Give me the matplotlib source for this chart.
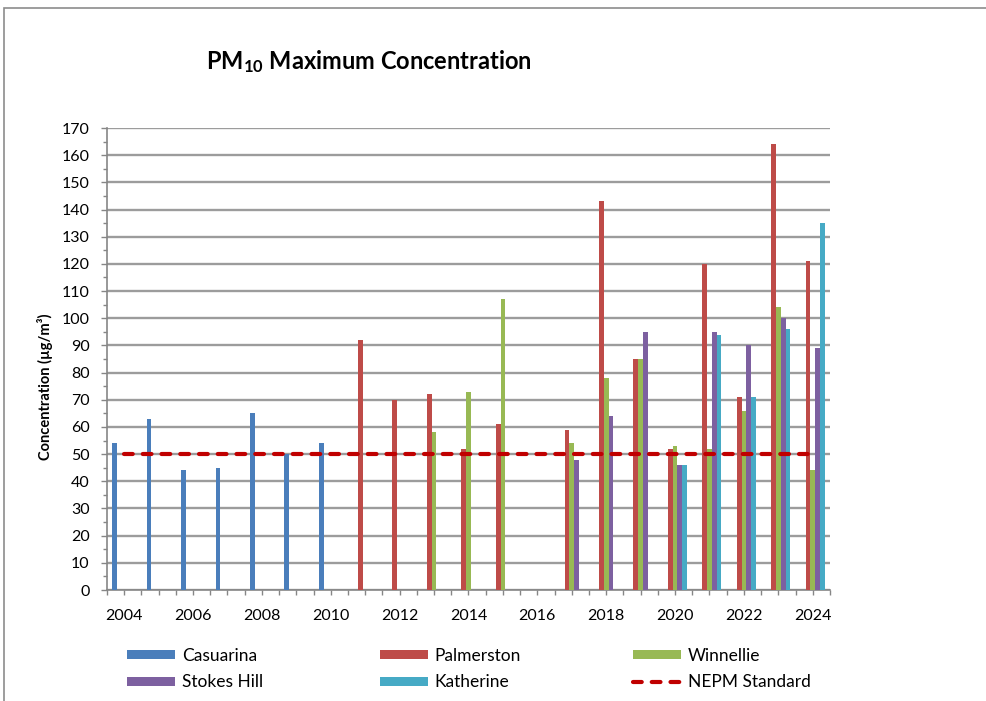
import numpy as np
import matplotlib
matplotlib.use("Agg")
import matplotlib.pyplot as plt
from matplotlib.patches import Rectangle
from matplotlib.lines import Line2D

plt.rcParams['font.family'] = ['Lato', 'DejaVu Sans']
plt.rcParams['mathtext.fontset'] = 'custom'
plt.rcParams['mathtext.rm'] = 'Lato'
plt.rcParams['mathtext.bf'] = 'Lato:bold'

years = list(range(2004, 2025))
N = None
casuarina = [54, 63, 44, 45, 65, 50, 54, N, N, N, N, N, N, N, N, N, N, N, N, N, N]
palmerston = [N, N, N, N, N, N, N, 92, 70, 72, 52, 61, N, 59, 143, 85, 52, 120, 71, 164, 121]
winnellie = [N, N, N, N, N, N, N, N, N, 58, 73, 107, N, 54, 78, 85, 53, 52, 66, 104, 44]
stokes_hill = [N, N, N, N, N, N, N, N, N, N, N, N, N, 48, 64, 95, 46, 95, 90, 100, 89]
katherine = [N, N, N, N, N, N, N, N, N, N, N, N, N, N, N, N, 46, 94, 71, 96, 135]
nepm_standard = [50] * len(years)

series_names = ["Casuarina", "Palmerston", "Winnellie", "Stokes Hill", "Katherine"]
series_vals = [casuarina, palmerston, winnellie, stokes_hill, katherine]
colors = ["#4A7EBB", "#BE4B48", "#98B954", "#7D60A0", "#46AAC5"]
nepm_color = "#C00000"
grid_color = "#9C9C9C"
axis_color = "#868686"

W, H = 987, 701
fig = plt.figure(figsize=(W / 100, H / 100), dpi=100)
ax = fig.add_axes([107 / W, 1 - 590 / H, (830 - 107) / W, (590 - 128) / H])

x = np.arange(len(years))
gap = 2.19
bw = 1.0 / (len(series_vals) + gap)
handles = []
for i, (name, vals, c) in enumerate(zip(series_names, series_vals, colors)):
    v = np.array([np.nan if a is None else a for a in vals], dtype=float)
    off = (i - (len(series_vals) - 1) / 2) * bw
    mask = ~np.isnan(v)
    ax.bar(x[mask] + off, v[mask], width=bw, color=c, zorder=3, linewidth=0)
    handles.append(Rectangle((0, 0), 1, 1, facecolor=c, edgecolor='none'))

ax.plot(x, nepm_standard, color=nepm_color, lw=3.0, linestyle=(0, (2.1, 2.4)),
        dash_capstyle='round', zorder=4)
nepm_handle = Line2D([0], [0], color=nepm_color, lw=3.0, linestyle=(0, (2.1, 2.4)),
                     dash_capstyle='round')

ax.set_xlim(-0.5, len(years) - 0.5)
ax.set_ylim(0, 170)
ax.set_yticks(np.arange(0, 171, 10))
ax.set_yticks(np.arange(0, 171, 5), minor=True)
ax.set_xticks(x)
ax.set_xticklabels([str(y) if (y % 2 == 0) else "" for y in years])
ax.set_xticks(np.arange(-0.5, len(years), 1.0), minor=True)

ax.yaxis.grid(True, which='major', color=grid_color, lw=1.7, zorder=0)
ax.set_axisbelow(True)
for s in ['top', 'right']:
    ax.spines[s].set_visible(False)
for s in ['left', 'bottom']:
    ax.spines[s].set_color(axis_color)
    ax.spines[s].set_linewidth(1.2)
ax.tick_params(axis='y', which='major', length=4.5, width=1, color=axis_color,
               labelsize=11.5, pad=8)
ax.tick_params(axis='y', which='minor', length=3, width=1, color=axis_color)
ax.tick_params(axis='x', which='both', length=3.5, width=1, color=axis_color,
               labelsize=11.5, pad=10)

fig.text(369 / W, 1 - 62 / H, r"$\mathbf{PM_{10}}$ Maximum Concentration",
         ha='center', va='center', fontsize=17, fontweight='bold')
fig.text(45 / W, 1 - 387 / H, "Concentration (µg/m³)", rotation=90,
         ha='center', va='center', fontsize=10.5, fontweight='bold')

col_x = [127, 380, 633]
cols = [([handles[0], handles[3]], [series_names[0], series_names[3]]),
        ([handles[1], handles[4]], [series_names[1], series_names[4]]),
        ([handles[2], nepm_handle], [series_names[2], "NEPM Standard"])]
for cx, (hh, ll) in zip(col_x, cols):
    fig.legend(hh, ll, loc='upper left', bbox_to_anchor=(cx / W, 1 - 648 / H),
               frameon=False, fontsize=12.5, handlelength=2.75, handleheight=0.42,
               handletextpad=0.4, labelspacing=0.6, borderpad=0, borderaxespad=0)

fig.patches.append(Rectangle((4 / W, -0.1), 1.2, 1 - 8 / H + 0.1,
                             transform=fig.transFigure, facecolor='none',
                             edgecolor='#8C8C8C', lw=1.2))

fig.savefig("out.png", dpi=100)
